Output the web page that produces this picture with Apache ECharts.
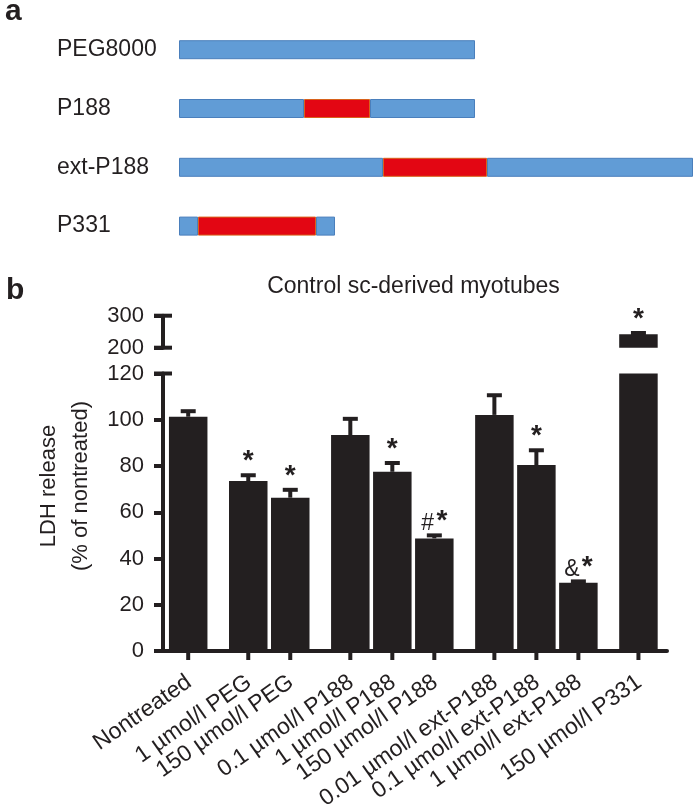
<!DOCTYPE html>
<html><head><meta charset="utf-8">
<script src="https://cdn.jsdelivr.net/npm/echarts@6/dist/echarts.min.js"></script>
<style>html,body{margin:0;padding:0;background:#fff}#c{width:700px;height:808px}</style>
</head><body><div id="c"></div>
<script>
// ---------- Panel a: polymer schematics (segment lengths, arbitrary units) ----------
const polymers = ['PEG8000', 'P188', 'ext-P188', 'P331'];
const peoBlock1 = [296, 125, 204, 19];
const ppoBlock  = [0, 66, 104, 118];
const peoBlock2 = [0, 105, 206, 19];

// ---------- Panel b: LDH release ----------
const treatments = ['Nontreated', '1 µmol/l PEG', '150 µmol/l PEG', '0.1 µmol/l P188', '1 µmol/l P188',
  '150 µmol/l P188', '0.01 µmol/l ext-P188', '0.1 µmol/l ext-P188', '1 µmol/l ext-P188', '150 µmol/l P331'];
const groups = [0, 1, 1, 2, 2, 2, 3, 3, 3, 4];
const ldhMean = [101.3, 73.5, 66.3, 93.4, 77.5, 48.7, 102.1, 80.4, 29.5, 242];
const ldhErr  = [2.4, 2.5, 3.4, 7.0, 3.8, 1.3, 8.5, 6.4, 0.6, 4];
const signif  = ['', '*', '*', '', '*', '# *', '', '*', '& *', '*'];
const lowerTicks = [0, 20, 40, 60, 80, 100, 120];
const upperTicks = [200, 300];

// ---------- layout / style ----------
const INK = '#231f20';
const FONT = '"Liberation Sans", Arial, Helvetica, sans-serif';
const GROUP_GAP = 0.43;
const LOWER_MAX = lowerTicks[lowerTicks.length - 1];
const X_MIN = -0.6, X_MAX = 11.4;
const LABEL_ANGLE = 35 * Math.PI / 180;
const AXIS_W = 4;

const xPos = treatments.map((t, i) => i + groups[i] * GROUP_GAP);
const barData = xPos.map((x, i) => [x, ldhMean[i]]);
const errData = xPos.map((x, i) => [x, ldhMean[i], ldhErr[i]]);

function markText(s) {
  return s.split(' ').map(p => p === '*' ? '{s|*}' : '{h|' + p + '}').join('{sp| }');
}
const markRich = {
  s: { font: 'bold 28px ' + FONT, fill: INK },
  h: { font: '23px ' + FONT, fill: INK, padding: [4, 0, 0, 0] },
  sp: { font: '8px ' + FONT }
};

function errorBar(api, x, m, e, dataIndex, children) {
  const top = api.coord([x, m + e]);
  const bt = api.coord([x, m]);
  children.push({ type: 'rect', shape: { x: top[0] - 2, y: top[1], width: 4, height: bt[1] - top[1] }, style: { fill: INK } });
  children.push({ type: 'rect', shape: { x: top[0] - 7.5, y: top[1] - 2, width: 15, height: 4 }, style: { fill: INK } });
  if (signif[dataIndex]) {
    children.push({ type: 'text', x: top[0], y: top[1] - 14,
      style: { text: markText(signif[dataIndex]), rich: markRich, align: 'center', verticalAlign: 'middle' } });
  }
}

function renderLower(params, api) {
  const i = params.dataIndex;
  const x = api.value(0), m = api.value(1), e = api.value(2);
  const base = api.coord([x, 0]);
  const children = [];
  children.push({ type: 'rect', shape: { x: base[0] - 2, y: base[1], width: 4, height: 9 }, style: { fill: INK } });
  children.push({ type: 'text', x: base[0] + 1, y: base[1] + 29, rotation: LABEL_ANGLE,
    style: { text: treatments[i], align: 'right', verticalAlign: 'middle', font: '23px ' + FONT, fill: INK } });
  if (m + e <= LOWER_MAX) errorBar(api, x, m, e, i, children);
  return { type: 'group', children };
}
function renderUpper(params, api) {
  const i = params.dataIndex;
  const x = api.value(0), m = api.value(1), e = api.value(2);
  const children = [];
  if (m > LOWER_MAX) errorBar(api, x, m, e, i, children);
  return { type: 'group', children };
}
// end caps of the broken y axis, sticking out to both sides of the axis line
function renderAxisSeg(params, api) {
  const p = api.coord([api.value(0), api.value(1)]);
  return { type: 'rect', shape: { x: p[0] - 9, y: p[1] - AXIS_W / 2, width: 18, height: AXIS_W }, style: { fill: INK } };
}

const yAxisCommon = {
  type: 'value', splitLine: { show: false },
  axisLine: { show: true, onZero: false, lineStyle: { color: INK, width: AXIS_W } },
  axisTick: { show: true, length: 9, lineStyle: { color: INK, width: AXIS_W } },
  axisLabel: { color: INK, fontSize: 22, fontFamily: FONT, margin: 19 }
};

const chart = echarts.init(document.getElementById('c'), null, { renderer: 'canvas' });
chart.setOption({
  animation: false,
  backgroundColor: '#fff',
  grid: [
    { left: 179, top: 20.3, width: 514, height: 235.2 },
    { left: 163, top: 373.5, width: 504, height: 277.5 },
    { left: 163, top: 315.7, width: 504, height: 32 }
  ],
  xAxis: [
    { gridIndex: 0, type: 'value', min: 0, max: 514, show: false },
    { gridIndex: 1, type: 'value', min: X_MIN, max: X_MAX, splitLine: { show: false },
      axisLine: { show: true, lineStyle: { color: INK, width: AXIS_W } }, axisTick: { show: false }, axisLabel: { show: false } },
    { gridIndex: 2, type: 'value', min: X_MIN, max: X_MAX, show: false }
  ],
  yAxis: [
    { gridIndex: 0, type: 'category', data: polymers, inverse: true,
      axisLine: { show: false }, axisTick: { show: false },
      axisLabel: { align: 'left', margin: 122, color: INK, fontSize: 23, fontFamily: FONT } },
    Object.assign({}, yAxisCommon, { gridIndex: 1, min: lowerTicks[0], max: LOWER_MAX, interval: lowerTicks[1] - lowerTicks[0] }),
    Object.assign({}, yAxisCommon, { gridIndex: 2, min: upperTicks[0], max: upperTicks[1], interval: upperTicks[1] - upperTicks[0] })
  ],
  graphic: [
    { type: 'text', x: 5, y: 12, style: { text: 'a', font: 'bold 30px ' + FONT, fill: INK, verticalAlign: 'middle' } },
    { type: 'text', x: 6, y: 291, style: { text: 'b', font: 'bold 30px ' + FONT, fill: INK, verticalAlign: 'middle' } },
    { type: 'text', x: 413.5, y: 287, style: { text: 'Control sc-derived myotubes', font: '23px ' + FONT, fill: INK, align: 'center', verticalAlign: 'middle' } },
    { type: 'text', x: 49, y: 486, rotation: Math.PI / 2, style: { text: 'LDH release', font: '22px ' + FONT, fill: INK, align: 'center', verticalAlign: 'middle' } },
    { type: 'text', x: 81, y: 486, rotation: Math.PI / 2, style: { text: '(% of nontreated)', font: '22px ' + FONT, fill: INK, align: 'center', verticalAlign: 'middle' } }
  ],
  series: [
    { type: 'bar', xAxisIndex: 0, yAxisIndex: 0, stack: 'poly', barWidth: 19,
      data: peoBlock1.map(v => v || '-'), itemStyle: { color: '#619cd6', borderColor: '#4a7fbc', borderWidth: 1 } },
    { type: 'bar', xAxisIndex: 0, yAxisIndex: 0, stack: 'poly', barWidth: 19,
      data: ppoBlock.map(v => v || '-'), itemStyle: { color: '#e30613', borderColor: '#d8621c', borderWidth: 1 } },
    { type: 'bar', xAxisIndex: 0, yAxisIndex: 0, stack: 'poly', barWidth: 19,
      data: peoBlock2.map(v => v || '-'), itemStyle: { color: '#619cd6', borderColor: '#4a7fbc', borderWidth: 1 } },

    { type: 'bar', xAxisIndex: 1, yAxisIndex: 1, barWidth: 38.5, clip: true, data: barData, itemStyle: { color: INK } },
    { type: 'bar', xAxisIndex: 2, yAxisIndex: 2, barWidth: 38.5, clip: true, data: barData, itemStyle: { color: INK } },

    { type: 'custom', xAxisIndex: 1, yAxisIndex: 1, data: errData, renderItem: renderLower, clip: false, z: 5 },
    { type: 'custom', xAxisIndex: 2, yAxisIndex: 2, data: errData, renderItem: renderUpper, clip: false, z: 5 },
    { type: 'custom', xAxisIndex: 1, yAxisIndex: 1, data: [[X_MIN, LOWER_MAX]], renderItem: renderAxisSeg, clip: false, z: 5 },
    { type: 'custom', xAxisIndex: 2, yAxisIndex: 2, data: upperTicks.map(t => [X_MIN, t]), renderItem: renderAxisSeg, clip: false, z: 5 }
  ]
});
</script>
</body></html>
